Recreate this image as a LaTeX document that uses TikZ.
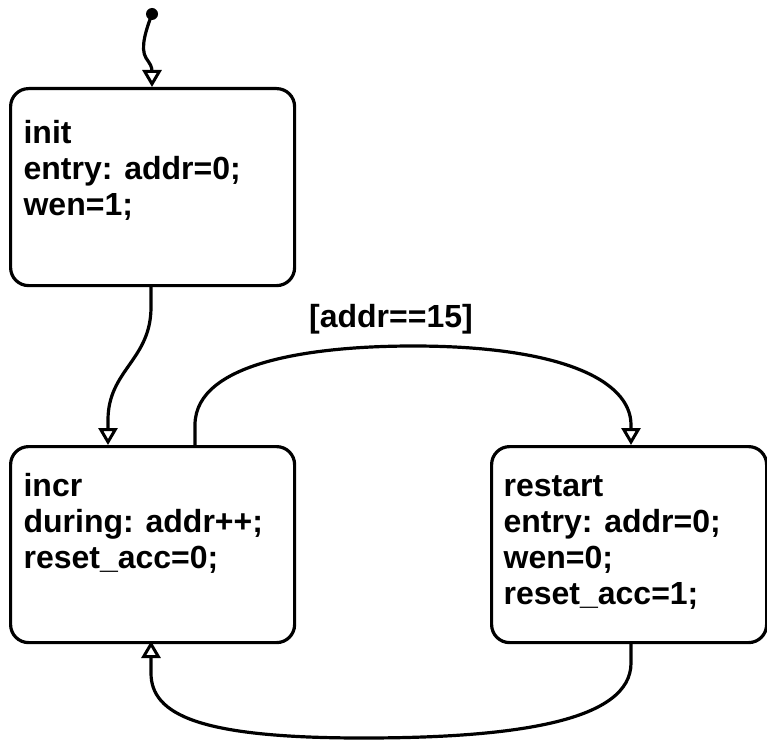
\documentclass[tikz,border=0pt]{standalone}
\usepackage{fontspec}
\setmainfont{Liberation Sans}
\usetikzlibrary{arrows.meta}
\begin{document}
\begin{tikzpicture}[x=1pt,y=-1pt,
  line width=3.2pt,
  statebox/.style={draw, rounded corners=18pt, inner sep=0pt, anchor=north west},
  statetext/.style={anchor=north west, inner sep=0pt, align=left,
    font=\fontsize{32}{36}\selectfont\bfseries},
  trans/.style={-{Triangle[open,width=19pt,length=17pt,line width=3pt]}}
]
\useasboundingbox (0,0) rectangle (767,741);
% boxes
\node[statebox, minimum width=284pt, minimum height=197pt] (init) at (9,87) {};
\node[statebox, minimum width=284pt, minimum height=196pt] (incr) at (9,445) {};
\node[statebox, minimum width=275pt, minimum height=196pt] (restart) at (490,445) {};
% texts
\node[statetext] (initT) at (22,118) {\rule{0pt}{24pt}init\\entry: addr=0;\\wen=1;};
\node[statetext] (incrT) at (22,471) {\rule{0pt}{24pt}incr\\during: addr++;\\reset\_acc=0;};
\node[statetext] (restartT) at (502,471) {\rule{0pt}{24pt}restart\\entry: addr=0;\\wen=0;\\reset\_acc=1;};
\node[anchor=base, inner sep=0pt, font=\fontsize{32}{36}\selectfont\bfseries] (guard) at (391,327) {[addr==15]};
% initial dot
\fill (152,14) circle (6pt) coordinate (dot);
\coordinate (initTop) at (152,87);
\draw[trans] (dot) .. controls (146,30) and (140,48) .. (146,58) .. controls (150,64) and (152,66) .. (152,72) -- (initTop);
% init -> incr
\coordinate (initBot) at (151,284);
\coordinate (incrTopL) at (108,445);
\draw[trans] (initBot) -- (151,307) .. controls (151,360) and (108,370) .. (108,420) -- (incrTopL);
% incr -> restart
\coordinate (incrTopR) at (195,445);
\coordinate (restartTop) at (631,445);
\draw[trans] (incrTopR) -- (195,425) .. controls (195,360) and (320,346) .. (413,346) .. controls (560,346) and (631,380) .. (631,425) -- (restartTop);
% restart -> incr
\coordinate (restartBot) at (631,641);
\coordinate (incrBot) at (151,641);
\draw[trans] (restartBot) -- (631,663) .. controls (631,720) and (520,738) .. (363,738) .. controls (200,738) and (151,715) .. (151,673) -- (incrBot);
\end{tikzpicture}
\end{document}
